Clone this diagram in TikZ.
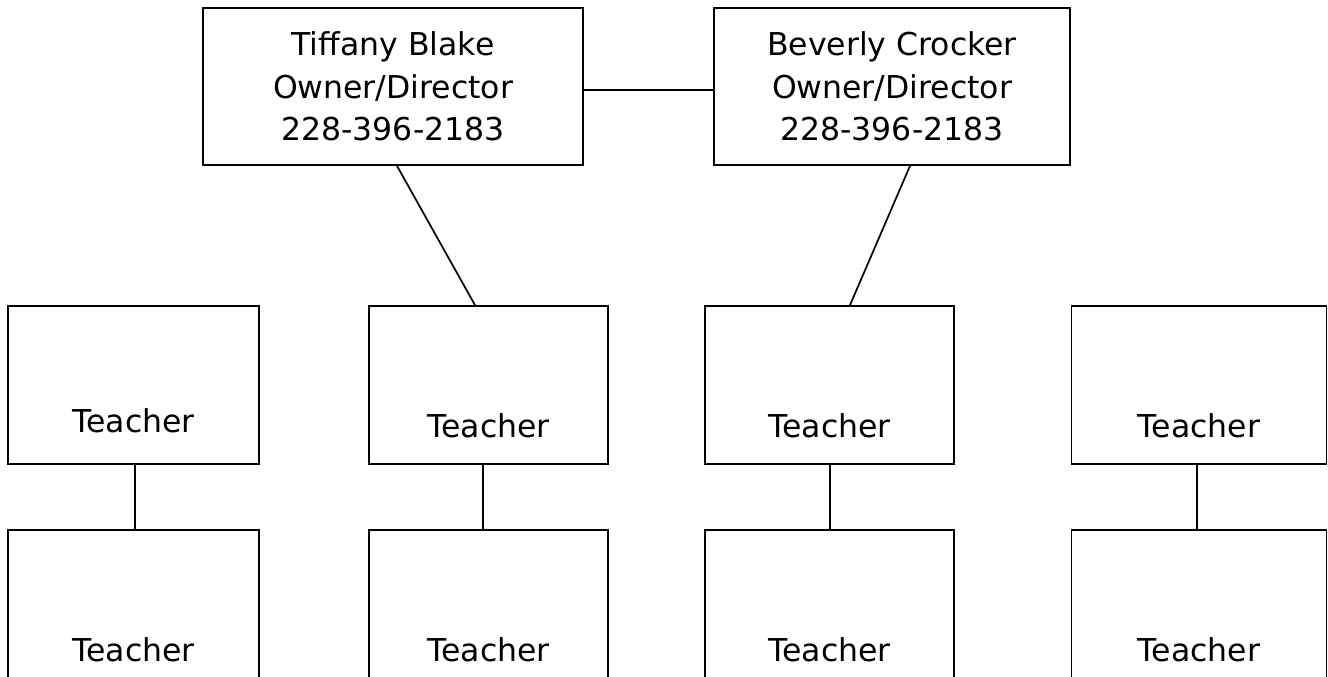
\documentclass[tikz,border=0pt]{standalone}
\usepackage{fontspec}
\setmainfont{DejaVu Sans}
\begin{document}
\begin{tikzpicture}[x=1pt,y=-1pt,
  every node/.style={font=\fontsize{31.5}{42.5}\selectfont},
  boss/.style={draw,line width=1.8pt,align=center,inner sep=0pt,
    minimum height=157pt},
  teach/.style={draw,line width=1.8pt,inner sep=0pt,anchor=base},
  link/.style={line width=1.7pt}]
\useasboundingbox (0,0) rectangle (1328,677);
\clip (0,0) rectangle (1328,677);
\fill[white] (0,0) rectangle (1328,677);
% owners
\node[boss,minimum width=380pt] (tb) at (393,86.5) {Tiffany Blake\\Owner/Director\\228-396-2183};
\node[boss,minimum width=356pt] (bc) at (892,86.5) {Beverly Crocker\\Owner/Director\\228-396-2183};
% first row of teachers (top 306, bottom 464)
\node[teach,minimum width=251pt,text height=126pt,text depth=32pt] (t1) at (133.5,432) {Teacher};
\node[teach,minimum width=239pt,text height=131pt,text depth=27pt] (t2) at (488.5,437) {Teacher};
\node[teach,minimum width=249pt,text height=131pt,text depth=27pt] (t3) at (829.5,437) {Teacher};
\node[teach,minimum width=255pt,text height=131pt,text depth=27pt] (t4) at (1199,437) {Teacher};
% second row of teachers (top 530, runs off the page)
\node[teach,minimum width=251pt,text height=131pt,text depth=140pt] (u1) at (133.5,661) {Teacher};
\node[teach,minimum width=239pt,text height=131pt,text depth=140pt] (u2) at (488.5,661) {Teacher};
\node[teach,minimum width=249pt,text height=131pt,text depth=140pt] (u3) at (829.5,661) {Teacher};
\node[teach,minimum width=255pt,text height=131pt,text depth=140pt] (u4) at (1199,661) {Teacher};
% connectors
\draw[link] ([yshift=-3.5pt]tb.east) -- ([yshift=-3.5pt]bc.west);
\draw[link] ([xshift=4pt]tb.south) -- ([xshift=-13.5pt]t2.north);
\draw[link] ([xshift=18pt]bc.south) -- ([xshift=20.5pt]t3.north);
\draw[link] ([xshift=1.5pt]t1.south) -- ([xshift=1.5pt]t1.south |- u1.north);
\draw[link] ([xshift=-5.5pt]t2.south) -- ([xshift=-5.5pt]t2.south |- u2.north);
\draw[link] ([xshift=0.5pt]t3.south) -- ([xshift=0.5pt]t3.south |- u3.north);
\draw[link] ([xshift=-2pt]t4.south) -- ([xshift=-2pt]t4.south |- u4.north);
\end{tikzpicture}
\end{document}
